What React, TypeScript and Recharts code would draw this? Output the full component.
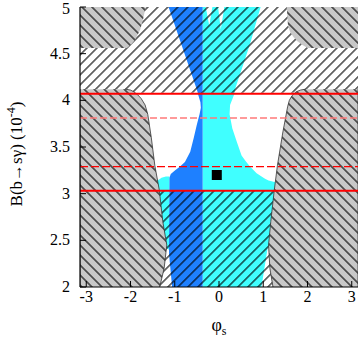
import { ComposedChart, Area, XAxis, YAxis, ReferenceLine, Scatter } from 'recharts';

const PI = Math.PI;

const xTicks = [-3, -2, -1, 0, 1, 2, 3];
const yTicks = [2, 2.5, 3, 3.5, 4, 4.5, 5];

// each region: at branching ratio y (1e-4), phi_s spans r = [from, to]
const grayLowerLeft = [
  { y: 2.0, r: [-PI, -1.34] },
  { y: 2.2, r: [-PI, -1.24] },
  { y: 2.45, r: [-PI, -1.18] },
  { y: 2.7, r: [-PI, -1.27] },
  { y: 3.04, r: [-PI, -1.35] },
  { y: 3.3, r: [-PI, -1.45] },
  { y: 3.6, r: [-PI, -1.53] },
  { y: 3.85, r: [-PI, -1.61] },
  { y: 3.95, r: [-PI, -1.67] },
  { y: 4.02, r: [-PI, -1.76] },
  { y: 4.06, r: [-PI, -1.84] },
  { y: 4.09, r: [-PI, -1.92] },
  { y: 4.11, r: [-PI, -2.0] },
  { y: 4.12, r: [-PI, -2.12] },
];

const grayLowerRight = [
  { y: 2.0, r: [PI, 1.22] },
  { y: 2.2, r: [PI, 1.15] },
  { y: 2.45, r: [PI, 1.12] },
  { y: 2.7, r: [PI, 1.17] },
  { y: 3.04, r: [PI, 1.25] },
  { y: 3.3, r: [PI, 1.32] },
  { y: 3.65, r: [PI, 1.44] },
  { y: 3.93, r: [PI, 1.55] },
  { y: 4.0, r: [PI, 1.59] },
  { y: 4.05, r: [PI, 1.65] },
  { y: 4.09, r: [PI, 1.74] },
  { y: 4.11, r: [PI, 1.84] },
  { y: 4.12, r: [PI, 1.96] },
];

const grayUpperLeft = [
  { y: 4.56, r: [-PI, -2.08] },
  { y: 4.6, r: [-PI, -1.98] },
  { y: 4.64, r: [-PI, -1.91] },
  { y: 4.7, r: [-PI, -1.84] },
  { y: 4.76, r: [-PI, -1.78] },
  { y: 4.88, r: [-PI, -1.71] },
  { y: 5.0, r: [-PI, -1.66] },
];

const grayUpperRight = [
  { y: 4.56, r: [PI, 2.0] },
  { y: 4.6, r: [PI, 1.86] },
  { y: 4.64, r: [PI, 1.76] },
  { y: 4.68, r: [PI, 1.68] },
  { y: 4.73, r: [PI, 1.61] },
  { y: 4.8, r: [PI, 1.56] },
  { y: 5.0, r: [PI, 1.53] },
];

const blueBand = [
  { y: 2.0, r: [-1.06, -0.37] },
  { y: 2.36, r: [-1.13, -0.37] },
  { y: 3.17, r: [-1.12, -0.37] },
  { y: 3.21, r: [-1.09, -0.37] },
  { y: 3.25, r: [-0.99, -0.37] },
  { y: 3.29, r: [-0.88, -0.37] },
  { y: 3.34, r: [-0.77, -0.37] },
  { y: 3.45, r: [-0.65, -0.37] },
  { y: 3.6, r: [-0.57, -0.37] },
  { y: 3.74, r: [-0.5, -0.37] },
  { y: 3.85, r: [-0.44, -0.37] },
  { y: 3.92, r: [-0.41, -0.37] },
  { y: 3.98, r: [-0.42, -0.37] },
  { y: 4.06, r: [-0.47, -0.37] },
  { y: 4.1, r: [-0.49, -0.37] },
  { y: 5.0, r: [-1.14, -0.37] },
];

const cyanBand = [
  { y: 2.0, r: [-0.37, 0.96] },
  { y: 2.42, r: [-0.37, 1.1] },
  { y: 2.5, r: [-0.37, 1.3] },
  { y: 3.12, r: [-0.37, 1.3] },
  { y: 3.14, r: [-0.37, 1.12] },
  { y: 3.16, r: [-0.37, 1.04] },
  { y: 3.22, r: [-0.37, 0.85] },
  { y: 3.29, r: [-0.37, 0.7] },
  { y: 3.35, r: [-0.37, 0.6] },
  { y: 3.41, r: [-0.37, 0.51] },
  { y: 3.56, r: [-0.37, 0.4] },
  { y: 3.7, r: [-0.37, 0.3] },
  { y: 3.85, r: [-0.37, 0.24] },
  { y: 3.95, r: [-0.37, 0.25] },
  { y: 4.06, r: [-0.37, 0.34] },
  { y: 4.13, r: [-0.37, 0.37] },
  { y: 4.6, r: [-0.37, 0.7] },
  { y: 5.0, r: [-0.37, 0.94] },
];

const cyanSliver = [
  { y: 2.4, r: [-1.13, -1.12] },
  { y: 2.5, r: [-1.5, -1.12] },
  { y: 3.13, r: [-1.5, -1.12] },
  { y: 3.15, r: [-1.36, -1.12] },
  { y: 3.17, r: [-1.3, -1.12] },
  { y: 3.185, r: [-1.2, -1.12] },
];

const notchA = [
  { y: 4.8, r: [-0.22, -0.22] },
  { y: 5.0, r: [-0.3, -0.15] },
];
const notchB = [
  { y: 4.76, r: [0.04, 0.04] },
  { y: 5.0, r: [-0.02, 0.12] },
];

const hatchUpper = [
  { y: 4.08, r: [-PI, PI] },
  { y: 5.0, r: [-PI, PI] },
];
const hatchLower = [
  { y: 2.0, r: [-PI, PI] },
  { y: 3.03, r: [-PI, PI] },
];

const solidLimits = [3.03, 4.07];
const darkDashed = [3.29];
const lightDashed = [3.81];

const bestFit = [{ x: -0.05, y: 3.2 }];

const FONT = '"Liberation Serif", "DejaVu Serif", serif';

const XTick = ({ x, y, payload }: any) => (
  <text x={x} y={y} dy={10} textAnchor="middle" fontFamily={FONT} fontSize={16} fill="#000">
    {payload.value}
  </text>
);

const YTick = ({ x, y, payload }: any) => (
  <text x={x} y={y} dy={5} textAnchor="end" fontFamily={FONT} fontSize={16} fill="#000">
    {payload.value}
  </text>
);

const YLabel = ({ viewBox }: any) => {
  const cx = viewBox.x + viewBox.width - 58;
  const cy = viewBox.y + viewBox.height / 2 + 7;
  return (
    <text
      x={cx}
      y={cy}
      transform={`rotate(-90, ${cx}, ${cy})`}
      textAnchor="middle"
      fontFamily={FONT}
      fontSize={17}
      fill="#000"
    >
      B(b→sγ)  (10<tspan dy={-7} fontSize={12}>-4</tspan>
      <tspan dy={7}>)</tspan>
    </text>
  );
};

const XLabel = ({ viewBox }: any) => {
  const cx = viewBox.x + viewBox.width / 2;
  const cy = viewBox.y + 44;
  return (
    <text x={cx} y={cy} textAnchor="middle" fontFamily={FONT} fontSize={18} fill="#000">
      φ<tspan dy={4} fontSize={12}>s</tspan>
    </text>
  );
};

const Square = ({ cx, cy }: any) => (
  <rect x={cx - 5} y={cy - 5} width={10} height={10} fill="#000" />
);

const areaProps = {
  xAxisId: 'b',
  yAxisId: 'l',
  dataKey: 'r',
  type: 'linear' as const,
  fillOpacity: 1,
  isAnimationActive: false,
};

export default function App() {
  return (
    <div style={{ position: 'absolute', left: 0, top: 0, fontFamily: FONT }}>
      <ComposedChart
        width={362}
        height={338}
        layout="vertical"
        margin={{ top: 7, right: 4, bottom: 21, left: 20 }}
      >
        <defs>
          <pattern id="slash" patternUnits="userSpaceOnUse" width="7.07" height="7.07" patternTransform="rotate(45)">
            <line x1="3.5" y1="0" x2="3.5" y2="7.07" stroke="#000" strokeWidth="1.1" />
          </pattern>
          <pattern id="grayHatch" patternUnits="userSpaceOnUse" width="7.07" height="7.07" patternTransform="rotate(-45)">
            <rect width="7.07" height="7.07" fill="#c8c8c8" />
            <line x1="3.5" y1="0" x2="3.5" y2="7.07" stroke="#000" strokeWidth="1.1" />
          </pattern>
        </defs>

        <XAxis
          xAxisId="b"
          type="number"
          dataKey="x"
          domain={[-PI, PI]}
          ticks={xTicks}
          allowDataOverflow
          height={30}
          tickSize={-6}
          tickMargin={11}
          tick={<XTick />}
          tickLine={{ stroke: '#000' }}
          axisLine={{ stroke: '#000', strokeWidth: 1.2 }}
          label={<XLabel />}
        />
        <XAxis
          xAxisId="t"
          orientation="top"
          type="number"
          domain={[-PI, PI]}
          ticks={xTicks}
          allowDataOverflow
          height={0}
          tickSize={-6}
          tick={false}
          tickLine={{ stroke: '#000' }}
          axisLine={{ stroke: '#000', strokeWidth: 1.2 }}
        />
        <YAxis
          yAxisId="l"
          type="number"
          dataKey="y"
          domain={[2, 5]}
          ticks={yTicks}
          reversed
          allowDataOverflow
          width={60}
          tickSize={-6}
          tickMargin={16}
          tick={<YTick />}
          tickLine={{ stroke: '#000' }}
          axisLine={{ stroke: '#000', strokeWidth: 1.2 }}
          label={<YLabel />}
        />
        <YAxis
          yAxisId="r"
          orientation="right"
          type="number"
          domain={[2, 5]}
          ticks={yTicks}
          reversed
          allowDataOverflow
          width={0}
          tickSize={-6}
          tick={false}
          tickLine={{ stroke: '#000' }}
          axisLine={{ stroke: '#000', strokeWidth: 1.2 }}
        />

        <Area {...areaProps} data={cyanBand} fill="#40ffff" stroke="none" />
        <Area {...areaProps} data={cyanSliver} fill="#40ffff" stroke="none" />
        <Area {...areaProps} data={blueBand} fill="#1e80ff" stroke="none" />
        <Area {...areaProps} data={notchA} fill="#fff" stroke="none" />
        <Area {...areaProps} data={notchB} fill="#fff" stroke="none" />
        <Area {...areaProps} data={hatchUpper} fill="url(#slash)" stroke="none" />
        <Area {...areaProps} data={hatchLower} fill="url(#slash)" stroke="none" />
        <Area {...areaProps} data={grayUpperLeft} fill="url(#grayHatch)" stroke="none" />
        <Area {...areaProps} data={grayUpperRight} fill="url(#grayHatch)" stroke="none" />
        <Area {...areaProps} data={grayLowerLeft} fill="url(#grayHatch)" stroke="#333" strokeWidth={0.8} />
        <Area {...areaProps} data={grayLowerRight} fill="url(#grayHatch)" stroke="#333" strokeWidth={0.8} />

        {solidLimits.map((v) => (
          <ReferenceLine key={`s${v}`} xAxisId="b" yAxisId="l" y={v} stroke="#ff0000" strokeWidth={2} />
        ))}
        {lightDashed.map((v) => (
          <ReferenceLine key={`l${v}`} xAxisId="b" yAxisId="l" y={v} stroke="#ff7a7a" strokeWidth={1.5} strokeDasharray="7 3" />
        ))}
        {darkDashed.map((v) => (
          <ReferenceLine key={`d${v}`} xAxisId="b" yAxisId="l" y={v} stroke="#ff0000" strokeWidth={1.2} strokeDasharray="8 3" />
        ))}

        <Scatter xAxisId="b" yAxisId="l" data={bestFit} shape={<Square />} isAnimationActive={false} />
      </ComposedChart>
    </div>
  );
}
